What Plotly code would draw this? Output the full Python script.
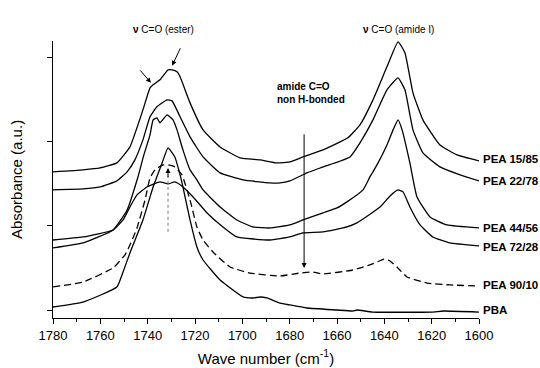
import plotly.graph_objects as go

# ---- data (wavenumber in cm-1, absorbance in a.u., stacked as drawn) ----
wn_15_85 = [1780, 1767.3, 1760.1, 1753.0, 1747.5, 1742.0, 1739.0, 1737.7, 1734.8, 1731.4, 1729.7, 1727.6,
            1726.3, 1722.1, 1716.6, 1709.4, 1701.0, 1692.5, 1685.4, 1679.9, 1674.4, 1665.9, 1658.7, 1655.4,
            1650.3, 1644.8, 1638.9, 1634.2, 1631.3, 1627.9, 1623.7, 1616.5, 1609.3, 1600]
ab_15_85 = [1.643, 1.667, 1.690, 1.75, 1.94, 2.381, 2.643, 2.679, 2.738, 2.857, 2.857, 2.833,
            2.774, 2.464, 2.143, 1.940, 1.810, 1.786, 1.75, 1.762, 1.821, 1.905, 2.0, 2.048,
            2.202, 2.5, 2.893, 3.19, 3.06, 2.583, 2.262, 1.964, 1.845, 1.774]

wn_22_78 = [1780, 1767.3, 1760.1, 1753.0, 1748.7, 1745.4, 1742.0, 1739.0, 1736.1, 1731.8, 1729.7, 1726.3,
            1722.1, 1716.6, 1709.4, 1699.7, 1688.3, 1684.1, 1679.9, 1672.7, 1665.9, 1654.5, 1650.3, 1644.8,
            1638.9, 1634.2, 1631.3, 1627.9, 1623.7, 1616.5, 1608.0, 1600]
ab_22_78 = [1.429, 1.44, 1.464, 1.536, 1.643, 1.786, 2.024, 2.298, 2.417, 2.5, 2.488, 2.298,
            2.060, 1.821, 1.631, 1.548, 1.512, 1.512, 1.536, 1.631, 1.702, 1.821, 1.988, 2.262,
            2.619, 2.762, 2.619, 2.143, 1.869, 1.702, 1.607, 1.536]

wn_44_56 = [1780, 1767.3, 1754.6, 1748.7, 1744.1, 1741.6, 1739.0, 1737.7, 1736.1, 1734.8, 1731.8, 1729.3,
            1727.6, 1725.1, 1722.1, 1719.2, 1716.6, 1709.4, 1702.3, 1695.5, 1688.3, 1679.9, 1674.4, 1665.9,
            1660.0, 1655.8, 1649.0, 1646.1, 1643.1, 1638.9, 1636.3, 1634.2, 1632.5, 1629.2, 1626.2, 1620.7,
            1613.5, 1600]
ab_44_56 = [0.738, 0.798, 0.952, 1.190, 1.583, 1.845, 2.083, 2.262, 2.286, 2.226, 2.321, 2.262,
            2.143, 1.905, 1.667, 1.548, 1.429, 1.226, 1.071, 0.988, 0.976, 1.012, 1.071, 1.155,
            1.214, 1.286, 1.429, 1.583, 1.726, 1.964, 2.143, 2.262, 2.143, 1.75, 1.345, 1.107,
            1.012, 0.976]

wn_72_28 = [1780, 1767.3, 1754.6, 1750.4, 1747.5, 1744.5, 1740.3, 1734.8, 1731.4, 1728.5, 1725.1, 1720.8,
            1714.9, 1708.2, 1702.3, 1688.3, 1679.9, 1674.4, 1665.9, 1655.8, 1651.6, 1641.8, 1637.6, 1634.2,
            1632.1, 1629.2, 1624.9, 1619.5, 1612.3, 1600]
ab_72_28 = [0.833, 0.869, 0.952, 1.071, 1.226, 1.369, 1.464, 1.524, 1.5, 1.524, 1.464, 1.345,
            1.155, 0.988, 0.869, 0.833, 0.869, 0.917, 0.929, 0.988, 1.036, 1.226, 1.357, 1.429,
            1.405, 1.226, 1.012, 0.869, 0.798, 0.762]

wn_90_10 = [1780, 1767.3, 1754.6, 1749.6, 1747.5, 1744.5, 1741.1, 1739.0, 1736.9, 1733.5, 1731.4, 1728.5,
            1725.5, 1722.1, 1719.2, 1716.6, 1712.4, 1705.2, 1696.8, 1684.1, 1675.6, 1670.2, 1665.9, 1653.3,
            1646.1, 1639.7, 1637.6, 1634.7, 1630.4, 1622.0, 1612.3, 1600]
ab_90_10 = [0.274, 0.333, 0.5, 0.655, 0.774, 0.976, 1.310, 1.571, 1.667, 1.726, 1.726, 1.702,
            1.607, 1.310, 0.988, 0.833, 0.690, 0.512, 0.440, 0.405, 0.440, 0.452, 0.429, 0.476,
            0.536, 0.607, 0.583, 0.512, 0.393, 0.321, 0.298, 0.286]

wn_pba = [1780, 1767.3, 1753.0, 1750.4, 1747.5, 1742.0, 1737.7, 1733.9, 1731.4, 1728.5, 1726.3, 1725.1,
          1722.1, 1719.2, 1716.6, 1709.4, 1699.7, 1695.5, 1692.5, 1689.6, 1684.1, 1679.9, 1672.7, 1660.0,
          1653.3, 1651.6, 1645.0, 1620.0, 1615.0, 1600]
ab_pba = [0.036, 0.095, 0.274, 0.452, 0.679, 1.071, 1.464, 1.75, 1.929, 1.821, 1.607, 1.464,
          1.071, 0.75, 0.595, 0.357, 0.155, 0.143, 0.155, 0.143, 0.083, 0.060, 0.024, 0.0,
          -0.012, 0.0, -0.024, -0.024, -0.012, -0.024]

series_names = ["PEA 15/85", "PEA 22/78", "PEA 44/56", "PEA 72/28", "PEA 90/10", "PBA"]
label_y = [1.80, 1.54, 0.98, 0.75, 0.30, 0.0]

x_ticks = [1780, 1760, 1740, 1720, 1700, 1680, 1660, 1640, 1620, 1600]

FONT = "Arial, Liberation Sans, sans-serif"

fig = go.Figure()
data = [(wn_15_85, ab_15_85, "solid"), (wn_22_78, ab_22_78, "solid"), (wn_44_56, ab_44_56, "solid"),
        (wn_72_28, ab_72_28, "solid"), (wn_90_10, ab_90_10, "7px,4px"), (wn_pba, ab_pba, "solid")]
for (xs, ys, dash), name in zip(data, series_names):
    fig.add_trace(go.Scatter(x=xs, y=ys, mode="lines", name=name,
                             line=dict(color="black", width=1.3, dash=dash),
                             line_shape="spline", line_smoothing=0.4, showlegend=False))

# dotted marker line at ester peak
fig.add_trace(go.Scatter(x=[1731.4, 1731.4], y=[0.93, 1.6], mode="lines",
                         line=dict(color="#777", width=1, dash="dot"), showlegend=False))

ann = []
for name, yv in zip(series_names, label_y):
    ann.append(dict(x=1.005, xref="paper", y=yv, yref="y", text="<b>%s</b>" % name, showarrow=False,
                    xanchor="left", yanchor="middle", font=dict(size=11.5, family=FONT, color="black")))

ann += [
    dict(x=1733.5, xref="x", y=1.069, yref="paper", text="<b>ν</b> C=O (ester)", showarrow=False,
         font=dict(size=10, family=FONT, color="black")),
    dict(x=1634.2, xref="x", y=1.069, yref="paper", text="<b>ν</b> C=O (amide I)", showarrow=False,
         font=dict(size=10, family=FONT, color="black")),
    dict(x=1686.2, xref="x", y=2.58, yref="y", text="<b>amide C=O<br>non H-bonded</b>", showarrow=False,
         xanchor="left", align="left", font=dict(size=10, family=FONT, color="black")),
    # arrows
    dict(x=1673.9, y=0.50, ax=1673.9, ay=2.107, xref="x", yref="y", axref="x", ayref="y", text="",
         showarrow=True, arrowhead=2, arrowsize=1, arrowwidth=1, arrowcolor="black"),
    dict(x=1738.6, y=2.702, ax=1743.7, ay=2.869, xref="x", yref="y", axref="x", ayref="y", text="",
         showarrow=True, arrowhead=2, arrowsize=1, arrowwidth=1, arrowcolor="black"),
    dict(x=1729.7, y=2.905, ax=1725.9, ay=3.131, xref="x", yref="y", axref="x", ayref="y", text="",
         showarrow=True, arrowhead=2, arrowsize=1, arrowwidth=1, arrowcolor="black"),
    dict(x=1731.4, y=1.69, ax=1731.4, ay=1.56, xref="x", yref="y", axref="x", ayref="y", text="",
         showarrow=True, arrowhead=2, arrowsize=1, arrowwidth=1, arrowcolor="black"),
]

fig.update_layout(
    width=540, height=368, margin=dict(l=53, r=61, t=41, b=50),
    paper_bgcolor="white", plot_bgcolor="white",
    font=dict(family=FONT, color="black"),
    annotations=ann,
    xaxis=dict(range=[1780, 1600], tickvals=x_ticks, ticktext=[str(v) for v in x_ticks],
               ticks="outside", ticklen=5, tickwidth=1, tickcolor="black",
               minor=dict(dtick=10, ticks="outside", ticklen=3, tickcolor="black", tick0=1600),
               showline=True, linecolor="black", linewidth=1, showgrid=False, zeroline=False,
               tickfont=dict(size=13, family=FONT), automargin=False,
               title=dict(text="Wave number (cm<sup>-1</sup>)", font=dict(size=15, family=FONT), standoff=11)),
    yaxis=dict(range=[-0.095, 3.2], tickvals=[0, 1, 2, 3], showticklabels=False,
               ticks="outside", ticklen=5, tickwidth=1, tickcolor="black",
               showline=True, linecolor="black", linewidth=1, showgrid=False, zeroline=False,
               automargin=False,
               title=dict(text="Absorbance (a.u.)", font=dict(size=15, family=FONT), standoff=20)),
)

fig.write_html("out.html")
